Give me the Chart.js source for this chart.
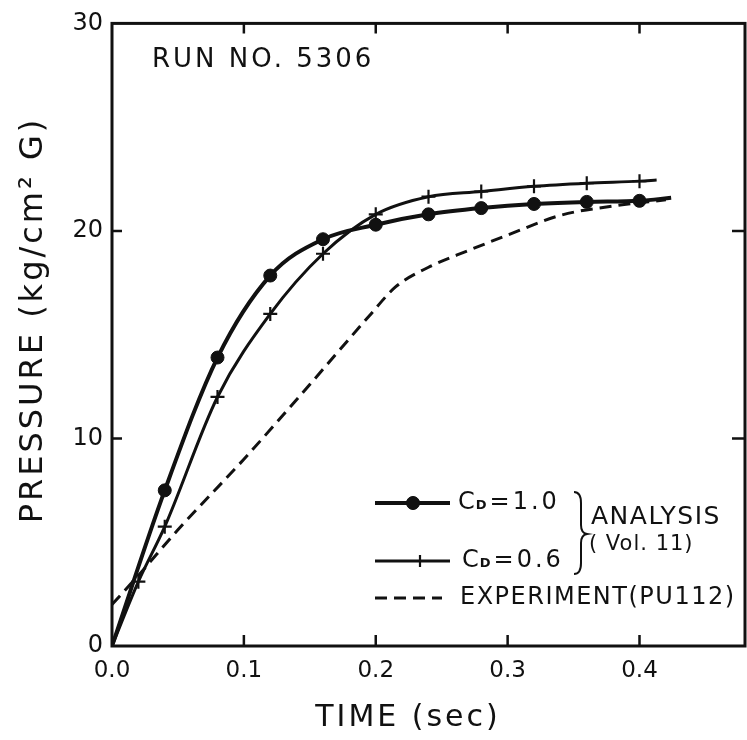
<!DOCTYPE html>
<html>
<head>
<meta charset="utf-8">
<script src="https://cdn.jsdelivr.net/npm/chart.js@4.4.1/dist/chart.umd.min.js"></script>
<style>
  html, body { margin: 0; padding: 0; background: #fff; }
</style>
</head>
<body>
<canvas id="chart" width="747" height="740"></canvas>
<script>
const INK = '#111'
const FONT = "'DejaVu Sans', sans-serif"

// Pressure rise, time in sec, pressure in kg/cm2 G
const cd10Time = [0, 0.04, 0.08, 0.12, 0.16, 0.20, 0.24, 0.28, 0.32, 0.36, 0.40, 0.424]
const cd10Pres = [0, 7.5, 13.9, 17.85, 19.6, 20.3, 20.8, 21.1, 21.3, 21.4, 21.45, 21.6]

const cd06Time = [0, 0.02, 0.04, 0.08, 0.12, 0.16, 0.20, 0.24, 0.28, 0.32, 0.36, 0.40, 0.413]
const cd06Pres = [0, 3.1, 5.75, 12.0, 16.0, 18.9, 20.8, 21.65, 21.9, 22.15, 22.3, 22.4, 22.45]

const expTime = [0, 0.02, 0.05, 0.10, 0.15, 0.195, 0.215, 0.24, 0.27, 0.30, 0.34, 0.38, 0.42]
const expPres = [2.0, 3.4, 5.6, 9.0, 12.6, 15.9, 17.3, 18.25, 19.05, 19.8, 20.75, 21.2, 21.5]

const xTicks = [0, 0.1, 0.2, 0.3, 0.4]
const yTicks = [0, 10, 20, 30]

const toPoints = (xs, ys) => xs.map((x, i) => ({ x, y: ys[i] }))
const endsBare = (r) => (c) => {
  const n = c.dataset.data.length
  return c.dataIndex === 0 || c.dataIndex === n - 1 ? 0 : r
}

// frame with inward tick marks on all four sides
const framePlugin = {
  id: 'frame',
  afterDraw(chart) {
    const { ctx, chartArea: a, scales } = chart
    ctx.save()
    ctx.strokeStyle = INK
    ctx.lineWidth = 3
    ctx.strokeRect(a.left, a.top, a.right - a.left, a.bottom - a.top)
    ctx.lineWidth = 2.5
    ctx.beginPath()
    xTicks.slice(1).forEach((v) => {
      const px = scales.x.getPixelForValue(v)
      ctx.moveTo(px, a.bottom); ctx.lineTo(px, a.bottom - 11)
      ctx.moveTo(px, a.top); ctx.lineTo(px, a.top + 10)
    })
    yTicks.slice(1, -1).forEach((v) => {
      const py = scales.y.getPixelForValue(v)
      ctx.moveTo(a.left, py); ctx.lineTo(a.left + 10, py)
      ctx.moveTo(a.right, py); ctx.lineTo(a.right - 13, py)
    })
    ctx.stroke()
    ctx.restore()
  },
}

function spacedText(ctx, text, x, y, spacing) {
  ctx.letterSpacing = spacing + 'px'
  ctx.fillText(text, x, y)
  ctx.letterSpacing = '0px'
}

// "C" with a small subscript "D", then the value
function drawCd(ctx, x, y, value) {
  ctx.textAlign = 'left'
  ctx.textBaseline = 'middle'
  ctx.font = '24px ' + FONT
  ctx.fillText('C', x, y)
  let w = ctx.measureText('C').width
  ctx.font = 'bold 13px ' + FONT
  ctx.fillText('D', x + w + 1, y + 3)
  w += ctx.measureText('D').width + 4
  ctx.font = '24px ' + FONT
  spacedText(ctx, '=' + value, x + w, y, 3)
}

const labelsPlugin = {
  id: 'labels',
  afterDraw(chart) {
    const { ctx } = chart
    const sets = chart.data.datasets
    ctx.save()
    ctx.fillStyle = INK
    ctx.strokeStyle = INK

    // run number
    ctx.font = '26px ' + FONT
    ctx.textAlign = 'left'
    ctx.textBaseline = 'middle'
    spacedText(ctx, 'RUN NO. 5306', 152, 60, 3)

    // axis titles
    ctx.font = '30px ' + FONT
    ctx.textAlign = 'center'
    spacedText(ctx, 'TIME (sec)', 408, 718, 3)
    ctx.save()
    ctx.translate(34, 320)
    ctx.rotate(-Math.PI / 2)
    ctx.font = '32px ' + FONT
    spacedText(ctx, 'PRESSURE (kg/cm\u00B2 G)', 0, 0, 3)
    ctx.restore()

    // legend samples
    const x0 = 375, x1 = 450
    const rows = [503, 561, 598]
    sets.forEach((ds, i) => {
      const y = rows[i]
      ctx.save()
      ctx.lineWidth = ds.borderWidth
      ctx.setLineDash(ds.borderDash || [])
      ctx.beginPath()
      ctx.moveTo(x0, y)
      ctx.lineTo(i === 2 ? 442 : x1, y)
      ctx.stroke()
      ctx.restore()
      if (ds.pointStyle) {
        ctx.lineWidth = ds.pointBorderWidth
        Chart.helpers.drawPoint(ctx, {
          pointStyle: ds.pointStyle, radius: ds.legendRadius, rotation: 0, borderWidth: ds.pointBorderWidth,
        }, i === 0 ? 413 : 420, y)
        if (ds.pointStyle === 'circle') ctx.fill()
      }
    })
    drawCd(ctx, 458, rows[0], '1.0')
    drawCd(ctx, 462, rows[1], '0.6')

    // brace grouping the two analysis curves
    ctx.lineWidth = 2
    ctx.beginPath()
    ctx.moveTo(574, 492)
    ctx.quadraticCurveTo(581, 492, 581, 503)
    ctx.lineTo(581, 525)
    ctx.quadraticCurveTo(581, 533, 587, 534)
    ctx.quadraticCurveTo(581, 535, 581, 543)
    ctx.lineTo(581, 563)
    ctx.quadraticCurveTo(581, 574, 574, 574)
    ctx.stroke()

    ctx.textAlign = 'left'
    ctx.font = '25px ' + FONT
    spacedText(ctx, 'ANALYSIS', 591, 517, 1.5)
    ctx.font = '21px ' + FONT
    spacedText(ctx, '( Vol. 11)', 589, 545, 1)
    ctx.font = '24px ' + FONT
    spacedText(ctx, 'EXPERIMENT(PU112)', 460, 598, 1.5)
    ctx.restore()
  },
}

new Chart(document.getElementById('chart'), {
  type: 'line',
  data: {
    datasets: [
      {
        label: 'Cd=1.0',
        data: toPoints(cd10Time, cd10Pres),
        borderColor: INK,
        backgroundColor: INK,
        borderWidth: 4,
        pointStyle: 'circle',
        pointRadius: endsBare(6.5),
        legendRadius: 6.5,
        pointBorderWidth: 1,
        pointBackgroundColor: INK,
        cubicInterpolationMode: 'monotone',
      },
      {
        label: 'Cd=0.6',
        data: toPoints(cd06Time, cd06Pres),
        borderColor: INK,
        backgroundColor: INK,
        borderWidth: 3,
        pointStyle: 'cross',
        pointRadius: endsBare(7),
        legendRadius: 6,
        pointBorderWidth: 2.2,
        cubicInterpolationMode: 'monotone',
      },
      {
        label: 'EXPERIMENT(PU112)',
        data: toPoints(expTime, expPres),
        borderColor: INK,
        borderWidth: 3,
        borderDash: [12, 7],
        pointRadius: 0,
        cubicInterpolationMode: 'monotone',
      },
    ],
  },
  options: {
    responsive: false,
    animation: false,
    layout: { padding: { top: 18, right: 2, left: 0, bottom: 0 } },
    scales: {
      x: {
        type: 'linear',
        min: 0,
        max: 0.48,
        grid: { display: false, drawTicks: false },
        border: { display: false },
        afterFit: (s) => { s.height = 94 },
        ticks: {
          stepSize: 0.1,
          includeBounds: false,
          padding: 11,
          color: INK,
          font: { family: FONT, size: 23 },
          callback: (v) => v.toFixed(1),
        },
      },
      y: {
        min: 0,
        max: 30,
        grid: { display: false, drawTicks: false },
        border: { display: false },
        afterFit: (s) => { s.width = 112 },
        ticks: {
          stepSize: 10,
          padding: 9,
          color: INK,
          font: { family: FONT, size: 24 },
        },
      },
    },
    plugins: {
      legend: { display: false },
      tooltip: { enabled: false },
    },
  },
  plugins: [framePlugin, labelsPlugin],
})
</script>
</body>
</html>
